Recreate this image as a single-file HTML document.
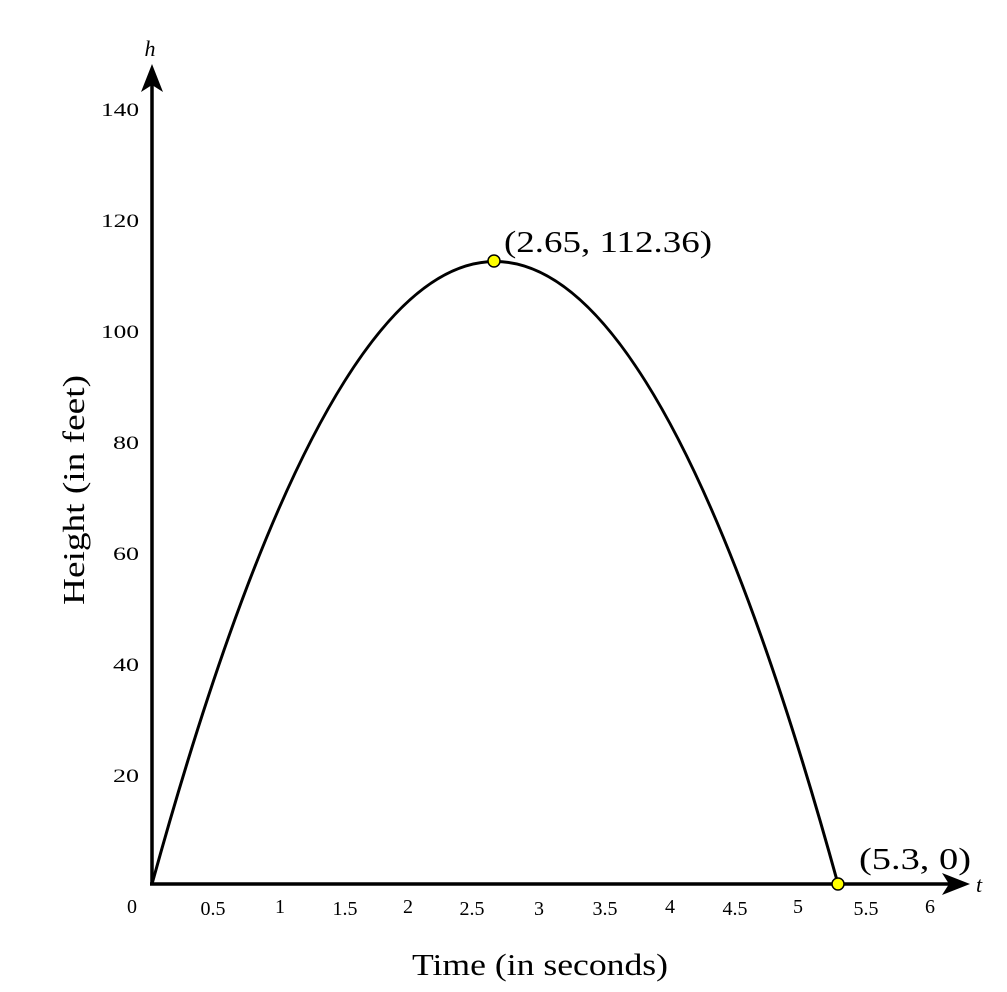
<!DOCTYPE html>
<html><head><meta charset="utf-8"><style>body{margin:0;background:#fff}svg{display:block}</style></head>
<body>
<svg width="1007" height="992" xmlns="http://www.w3.org/2000/svg" font-family="'Liberation Serif',serif" fill="#000">
<rect width="1007" height="992" fill="#fff"/>
<line x1="152" y1="884" x2="152" y2="80" stroke="#000" stroke-width="3.5"/>
<polygon points="152,64 141,92 152,85 163,92"/>
<line x1="150" y1="884" x2="955" y2="884" stroke="#000" stroke-width="3.5"/>
<polygon points="970,884 942,873 949,884 942,895"/>
<text x="150" y="56" font-size="22" font-style="italic" text-anchor="middle">h</text>
<text x="976" y="892" font-size="22" font-style="italic">t</text>
<g font-size="19" lengthAdjust="spacingAndGlyphs">
<text x="101" y="116" textLength="38" lengthAdjust="spacingAndGlyphs">140</text><text x="101" y="227" textLength="38" lengthAdjust="spacingAndGlyphs">120</text><text x="101" y="338" textLength="38" lengthAdjust="spacingAndGlyphs">100</text>
<text x="113" y="449" textLength="26" lengthAdjust="spacingAndGlyphs">80</text><text x="113" y="560" textLength="26" lengthAdjust="spacingAndGlyphs">60</text><text x="113" y="671" textLength="26" lengthAdjust="spacingAndGlyphs">40</text><text x="113" y="782" textLength="26" lengthAdjust="spacingAndGlyphs">20</text>
</g>
<g font-size="20" text-anchor="middle">
<text x="132" y="913">0</text><text x="213" y="915">0.5</text><text x="280" y="913">1</text><text x="345" y="915">1.5</text>
<text x="408" y="913">2</text><text x="472" y="915">2.5</text><text x="539" y="915">3</text><text x="605" y="915">3.5</text>
<text x="670" y="913">4</text><text x="735" y="915">4.5</text><text x="798" y="913">5</text><text x="866" y="915">5.5</text><text x="930" y="913">6</text>
</g>
<path d="M152,884 Q495,-361 838,884" fill="none" stroke="#000" stroke-width="3"/>
<circle cx="494" cy="261" r="6" fill="#ffff00" stroke="#000" stroke-width="1.5"/>
<circle cx="838" cy="884" r="6" fill="#ffff00" stroke="#000" stroke-width="1.5"/>
<text x="504" y="252" font-size="31" textLength="208" lengthAdjust="spacingAndGlyphs">(2.65, 112.36)</text>
<text x="859" y="869" font-size="31" textLength="112" lengthAdjust="spacingAndGlyphs">(5.3, 0)</text>
<text x="412" y="975" font-size="31" textLength="256" lengthAdjust="spacingAndGlyphs">Time (in seconds)</text>
<text transform="translate(84,605) rotate(-90)" font-size="31" textLength="230" lengthAdjust="spacingAndGlyphs">Height (in feet)</text>
</svg>
</body></html>
